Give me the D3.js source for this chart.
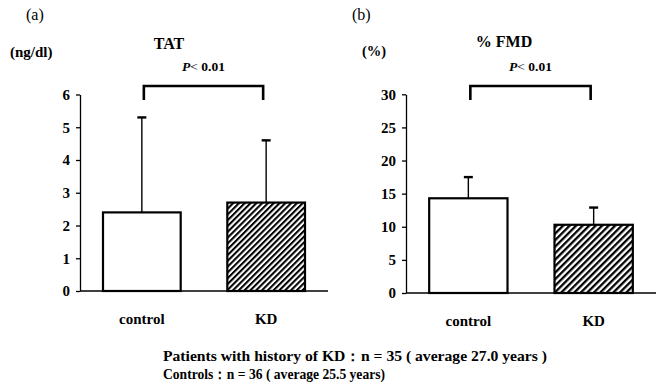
<!DOCTYPE html>
<html>
<head>
<meta charset="utf-8">
<script src="https://cdn.jsdelivr.net/npm/d3@7"></script>
<style>
body { margin: 0; background: #fff; }
</style>
</head>
<body>
<div id="chart"></div>
<script>
let groups = ["control", "KD"]
let tatMean = [2.4, 2.7]
let tatSD = [2.9, 1.9]
let tatTicks = [0, 1, 2, 3, 4, 5, 6]
let fmdMean = [14.3, 10.3]
let fmdSD = [3.2, 2.6]
let fmdTicks = [0, 5, 10, 15, 20, 25, 30]
let notes = ["Patients with history of KD\uFF1An = 35 ( average 27.0 years )", "Controls\uFF1An = 36 ( average 25.5 years)"]

let serif = "Liberation Serif"
let svg = d3.select("#chart").append("svg")
    .attr("width", 659)
    .attr("height", 392)
    .attr("font-family", serif)
let defs = svg.append("defs")

function hatch(id, gap) {
    let p = defs.append("pattern")
        .attr("id", id)
        .attr("patternUnits", "userSpaceOnUse")
        .attr("width", gap)
        .attr("height", gap)
        .attr("patternTransform", "rotate(45)")
    p.append("rect").attr("width", gap).attr("height", gap).attr("fill", "#fff")
    p.append("rect").attr("width", gap * 0.5).attr("height", gap).attr("fill", "#000")
}
hatch("hatchA", 4.1)
hatch("hatchB", 4.6)

function label(x, y, txt, size, weight, anchor) {
    return svg.append("text")
        .attr("x", x)
        .attr("y", y)
        .attr("font-family", serif)
        .attr("font-size", size)
        .attr("font-weight", weight || "bold")
        .attr("text-anchor", anchor || "start")
        .attr("fill", "#000")
        .text(txt)
}

function drawPanel(p) {
    let x = d3.scaleBand()
        .domain(groups)
        .range(p.xRange)
        .paddingInner(0.375)
        .paddingOuter(0.185)
    let y = d3.scaleLinear()
        .domain([0, d3.max(p.ticks)])
        .range(p.yRange)
    let g = svg.append("g")
    let bw = x.bandwidth()

    let ax = g.append("g")
        .attr("transform", "translate(" + p.xRange[0] + ",0)")
        .call(d3.axisLeft(y).tickValues(p.ticks).tickFormat(d3.format("d"))
            .tickSize(4).tickSizeOuter(0).tickPadding(6))
        .attr("font-family", serif)
    ax.selectAll("path, line").attr("stroke", "#000").attr("stroke-width", 1.3)
    ax.selectAll("text").attr("font-size", 15).attr("font-weight", "bold").attr("fill", "#000")

    // error bars (upper only)
    groups.forEach(function(c, i) {
        let cx = x(c) + bw / 2
        g.append("line")
            .attr("x1", cx).attr("x2", cx)
            .attr("y1", y(p.mean[i])).attr("y2", y(p.mean[i] + p.sd[i]))
            .attr("stroke", "#000").attr("stroke-width", 1.4)
        g.append("line")
            .attr("x1", cx - 4.5).attr("x2", cx + 4.5)
            .attr("y1", y(p.mean[i] + p.sd[i])).attr("y2", y(p.mean[i] + p.sd[i]))
            .attr("stroke", "#000").attr("stroke-width", 2.4)
    })

    g.selectAll(".bar")
        .data(p.mean)
        .enter()
        .append("rect")
        .attr("class", "bar")
        .attr("x", function(d, i) { return x(groups[i]) })
        .attr("y", function(d) { return y(d) })
        .attr("width", bw)
        .attr("height", function(d) { return y(0) - y(d) })
        .attr("fill", function(d, i) { return i == 0 ? "#fff" : "url(#" + p.hatch + ")" })
        .attr("stroke", "#000")
        .attr("stroke-width", 2.2)

    // baseline
    g.append("line")
        .attr("x1", p.xRange[0]).attr("x2", p.xRange[1])
        .attr("y1", y(0)).attr("y2", y(0))
        .attr("stroke", "#000").attr("stroke-width", 1.5)

    // significance bracket
    let b0 = x(groups[0]) + bw / 2 + 2, b1 = x(groups[1]) + bw / 2 - 3
    g.append("path")
        .attr("d", "M" + b0 + "," + (p.bracketY + 14) + "V" + p.bracketY + "H" + b1 + "V" + (p.bracketY + 14))
        .attr("fill", "none").attr("stroke", "#000").attr("stroke-width", 2.6)

    groups.forEach(function(c) {
        label(x(c) + bw / 2, y(0) + 32.5, c, 15, "bold", "middle")
    })
    let pt = label((b0 + b1) / 2, 71, "", 13.5, "bold", "middle")
    pt.append("tspan").attr("font-style", "italic").text("P")
    pt.append("tspan").attr("font-weight", "normal").text("< ")
    pt.append("tspan").text("0.01")
}

drawPanel({ mean: tatMean, sd: tatSD, ticks: tatTicks, hatch: "hatchA",
    xRange: [80, 328], yRange: [291, 94.5], bracketY: 86 })
drawPanel({ mean: fmdMean, sd: fmdSD, ticks: fmdTicks, hatch: "hatchB",
    xRange: [406, 656], yRange: [293, 94.3], bracketY: 86 })

label(26, 20, "(a)", 16, "normal")
label(352, 20, "(b)", 16, "normal")
label(10, 57, "(ng/dl)", 15)
label(362, 56, "(%)", 14.5)
label(169, 49, "TAT", 16, "bold", "middle")
label(504, 46.5, "% FMD", 16, "bold", "middle")

label(163, 361, notes[0], 14).attr("textLength", 384).attr("lengthAdjust", "spacingAndGlyphs")
label(163, 378.5, notes[1], 14).attr("textLength", 222).attr("lengthAdjust", "spacingAndGlyphs")
</script>
</body>
</html>
